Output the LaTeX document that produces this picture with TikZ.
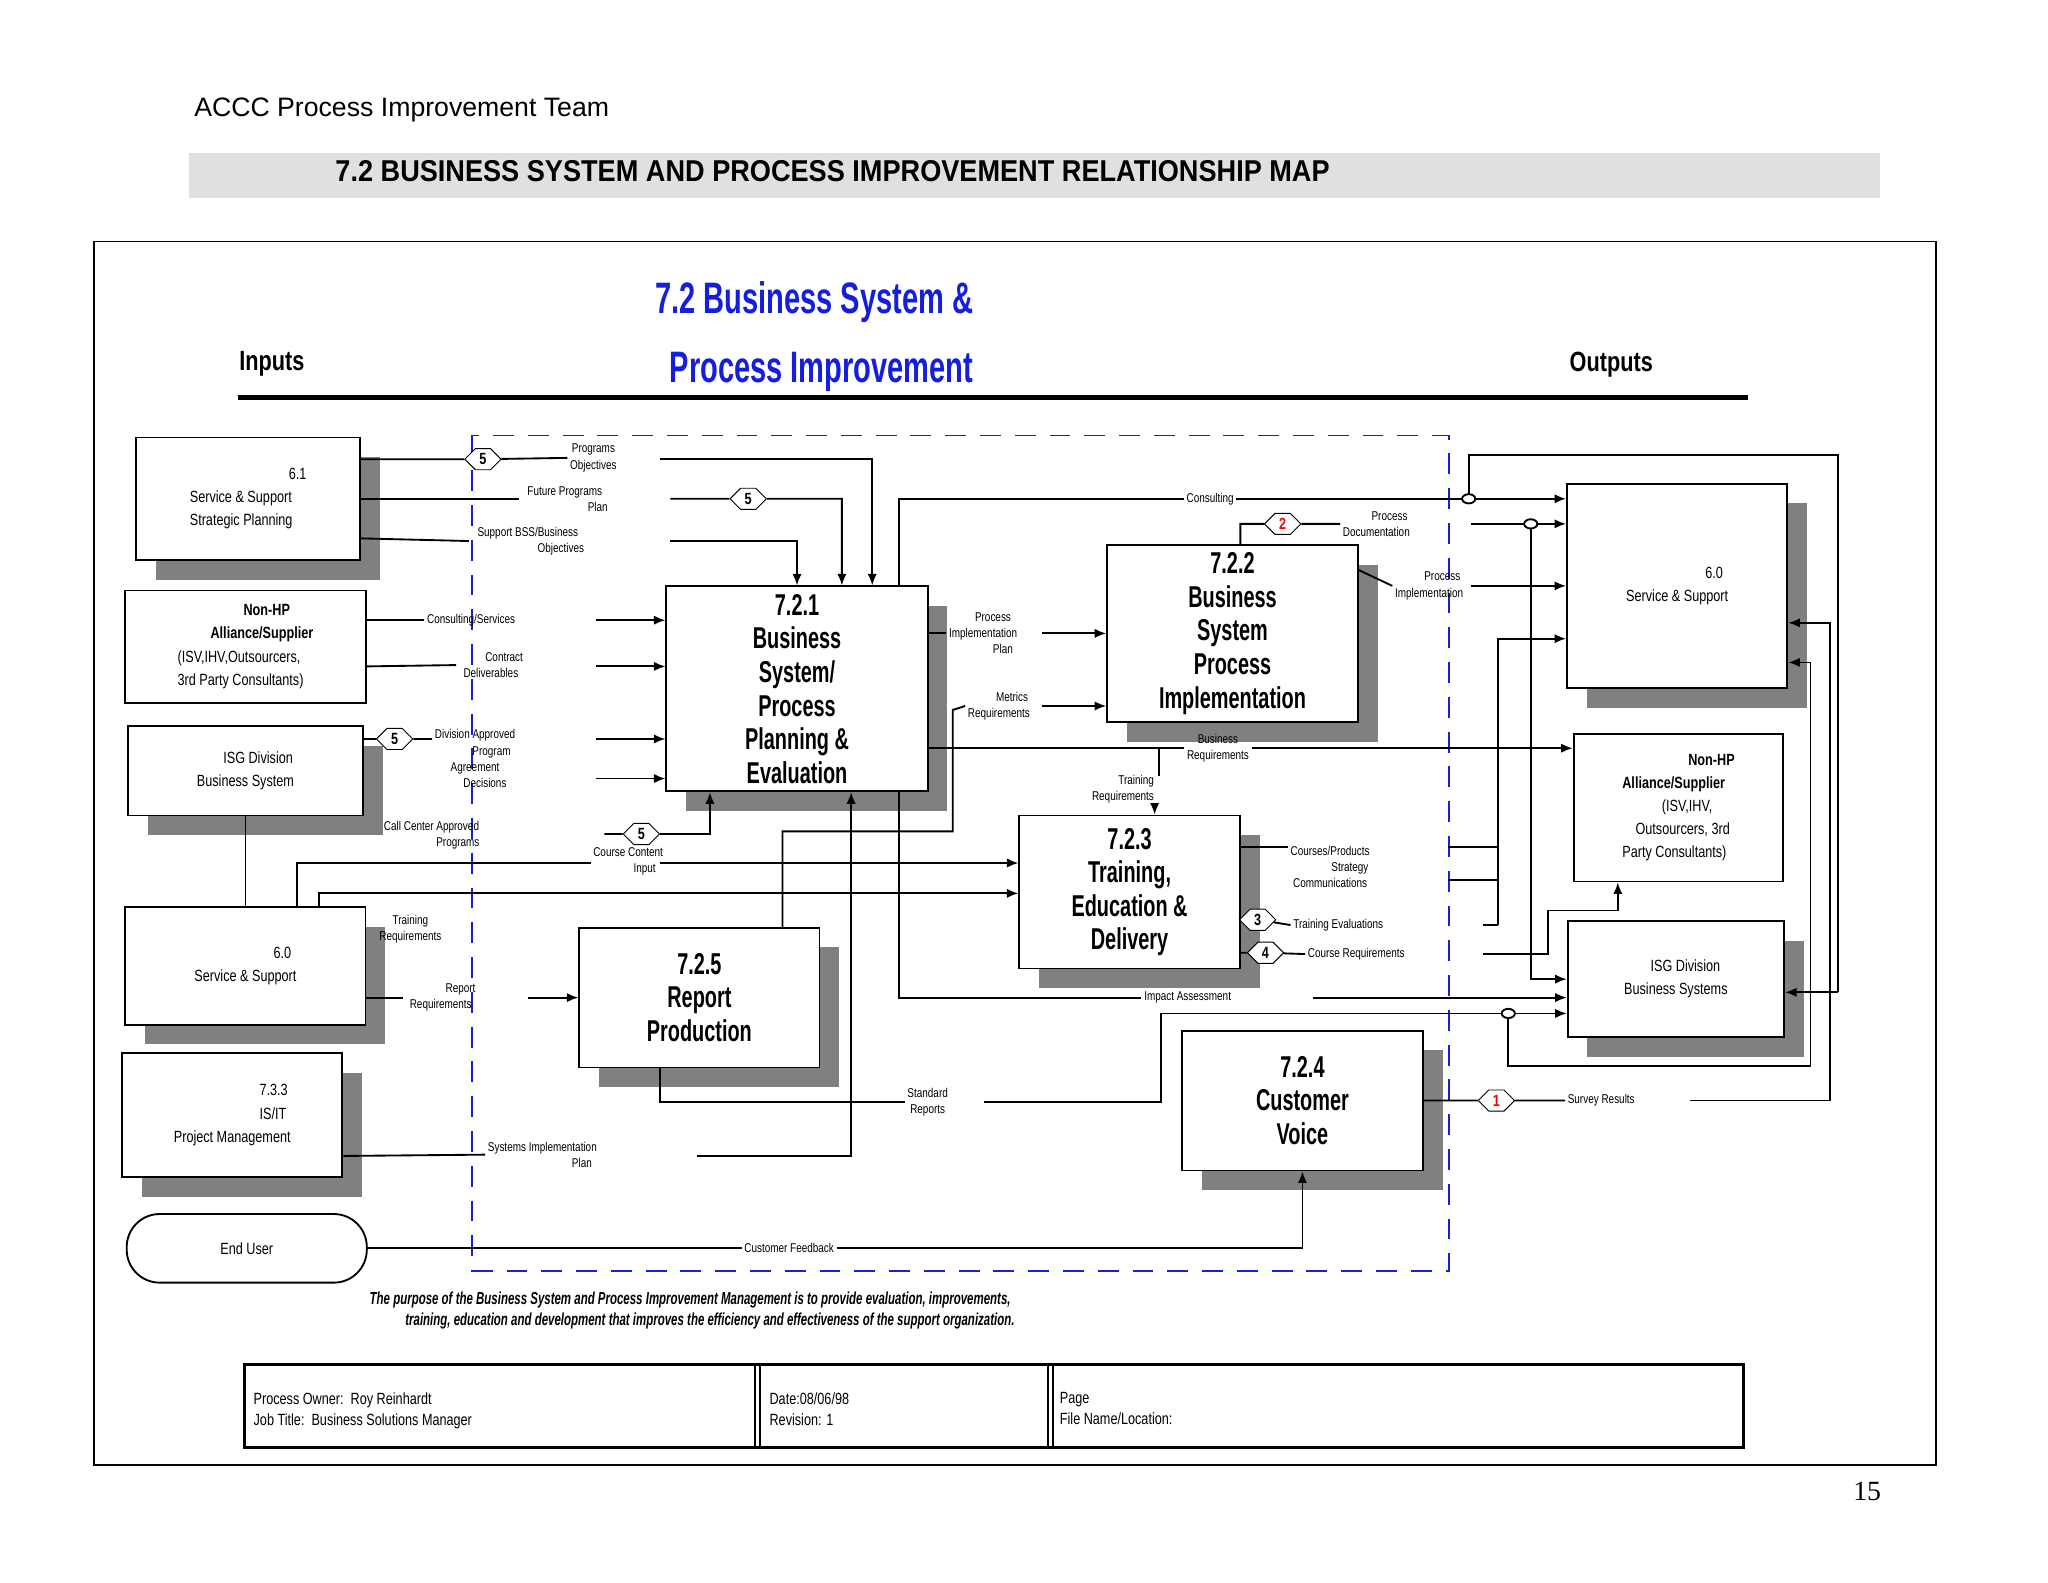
\documentclass[tikz,border=0pt]{standalone}
\usepackage{fontspec}
\newfontfamily\arial{Liberation Sans}
\newfontfamily\hdr{Liberation Sans}[FakeStretch=0.9]
\newfontfamily\nar{Liberation Sans}[FakeStretch=0.78]
\newfontfamily\narr{Liberation Sans}[FakeStretch=0.66]
\newfontfamily\tms{Liberation Serif}
\usetikzlibrary{shapes.symbols,shapes.geometric,shadows,arrows.meta}
\definecolor{ttlblue}{RGB}{20,30,220}
\tikzset{
  box/.style={draw, thick, fill=white, font=\nar\fontsize{7}{10}\selectfont, align=left},
  shd/.style={drop shadow={shadow xshift=0.3cm, shadow yshift=-0.3cm, fill=black!50, opacity=1}},
  proc/.style={box, shd, font=\narr\bfseries\fontsize{13}{14.5}\selectfont, align=center},
  lbl/.style={font=\nar\fontsize{5.5}{7}\selectfont, align=center, inner sep=1pt},
  hex/.style={signal, signal to=east and west, draw, fill=white, font=\nar\bfseries\fontsize{7}{7}\selectfont, inner sep=1.5pt, minimum width=0.55cm, minimum height=0.32cm},
  link/.style={thick},
  jn/.style={draw, thick, ellipse, fill=white, inner sep=0pt, minimum width=0.2cm, minimum height=0.14cm}
}
\begin{document}
\begin{tikzpicture}[x=0.02cm, y=-0.02cm, >={Latex[length=5pt,width=4pt]}]
\useasboundingbox (0,0) rectangle (1552,1199);
% header
\node[anchor=west, font=\arial\fontsize{11.5}{14}\selectfont] (team) at (141,83) {ACCC Process Improvement Team};
\fill[black!12] (143,116) rectangle (1425,150);
\node[anchor=west, font=\hdr\bfseries\fontsize{13}{15}\selectfont] (head) at (248,130) {7.2 BUSINESS SYSTEM AND PROCESS IMPROVEMENT RELATIONSHIP MAP};
\draw[thick] (71,183) rectangle (1467,1110);
\node[font=\narr\bfseries\fontsize{19}{30}\selectfont, text=ttlblue, align=center] (ttl) at (617,255) {7.2 Business System \&\\ \,\,Process Improvement};
\node[font=\nar\bfseries\fontsize{12}{14}\selectfont] (inputs) at (206,276) {Inputs};
\node[font=\nar\bfseries\fontsize{12}{14}\selectfont] (outputs) at (1221,276) {Outputs};
\draw[line width=2.2pt] (180,301) -- (1325,301);
\draw[ttlblue, thick, dash pattern=on 9pt off 6pt] (358,330) rectangle (1098,963);

% input boxes
\node[box, shd, minimum width=3.4cm, minimum height=1.86cm] (in61) at (188,378) {\hspace*{1.5cm}6.1\\Service \& Support\\Strategic Planning};
\node[box, minimum width=3.66cm, minimum height=1.7cm] (inNonHP) at (186,490) {\hspace*{1cm}\textbf{Non-HP}\\\hspace*{0.5cm}\textbf{Alliance/Supplier}\\(ISV,IHV,Outsourcers,\\3rd Party Consultants)};
\node[box, shd, minimum width=3.56cm, minimum height=1.36cm] (inISG) at (186,584) {\hspace*{0.4cm}ISG Division\\Business System};
\node[box, shd, minimum width=3.64cm, minimum height=1.78cm] (in60) at (186,732) {\hspace*{1.2cm}6.0\\Service \& Support};
\node[box, shd, minimum width=3.34cm, minimum height=1.88cm] (in733) at (176,845) {\hspace*{1.3cm}7.3.3\\\hspace*{1.3cm}IS/IT\\Project Management};
\node[box, rounded corners=0.5cm, minimum width=3.64cm, minimum height=1.04cm] (user) at (187,946) {End User};

% process boxes
\node[proc, minimum width=3.96cm, minimum height=3.1cm] (p721) at (604,522) {7.2.1\\Business\\System/\\Process\\Planning \&\\Evaluation};
\node[proc, minimum width=3.8cm, minimum height=2.6cm] (p722) at (934,480) {7.2.2\\Business\\System\\Process\\Implementation};
\node[proc, minimum width=3.34cm, minimum height=2.32cm] (p723) at (856,676) {7.2.3\\Training,\\Education \&\\Delivery};
\node[proc, minimum width=3.64cm, minimum height=2.12cm] (p725) at (530,756) {7.2.5\\Report\\Production};
\node[proc, minimum width=3.66cm, minimum height=2.12cm] (p724) at (987,834) {7.2.4\\Customer\\Voice};

% output boxes
\node[box, shd, minimum width=3.34cm, minimum height=3.1cm] (out60) at (1271,444) {\hspace*{1.2cm}6.0\\Service \& Support};
\node[box, minimum width=3.18cm, minimum height=2.24cm] (outNonHP) at (1272,612) {\hspace*{1cm}\textbf{Non-HP}\\\textbf{Alliance/Supplier}\\\hspace*{0.6cm}(ISV,IHV,\\\hspace*{0.2cm}Outsourcers, 3rd\\Party Consultants)};
\node[box, shd, minimum width=3.28cm, minimum height=1.76cm] (outISG) at (1270,742) {\hspace*{0.4cm}ISG Division\\Business Systems};

% labels and hexagons
\node[hex] (h5a) at (366,348) {5};
\node[lbl, anchor=west] (lPO) at (430,347) {Programs\\Objectives};
\node[lbl] (lFP) at (428,378) {Future Programs\\\hspace*{1cm}Plan};
\node[hex] (h5b) at (567,378) {5};
\node[lbl] (lSB) at (400,410) {Support BSS/Business\\\hspace*{1cm}Objectives};
\node[lbl] (lCS) at (357,470) {Consulting/Services};
\node[lbl] (lCD) at (372,504) {\hspace*{0.4cm}Contract\\Deliverables};
\node[hex] (h5c) at (299,560) {5};
\node[lbl] (lDA) at (360,575) {Division Approved\\\hspace*{0.5cm}Program\\Agreement\\\hspace*{0.3cm}Decisions};
\node[lbl] (lCC) at (327,633) {Call Center Approved\\\hspace*{0.8cm}Programs};
\node[hex] (h5d) at (486,632) {5};
\node[lbl] (lCCI) at (476,653) {Course Content\\\hspace*{0.5cm}Input};
\node[lbl] (lTR) at (311,704) {Training\\Requirements};
\node[lbl] (lRR) at (334,756) {\hspace*{0.6cm}Report\\Requirements};
\node[lbl] (lSIP) at (411,875) {Systems Implementation\\\hspace*{1.2cm}Plan};
\node[lbl] (lCF) at (598,946) {Customer Feedback};
\node[lbl] (lPIP) at (745,480) {\hspace*{0.3cm}Process\\Implementation\\\hspace*{0.6cm}Plan};
\node[lbl] (lMR) at (757,535) {\hspace*{0.4cm}Metrics\\Requirements};
\node[lbl] (lBR) at (923,567) {Business\\Requirements};
\node[lbl] (lTRq) at (851,598) {\hspace*{0.4cm}Training\\Requirements};
\node[lbl] (lCons) at (917,378) {Consulting};
\node[hex, text=red] (h2) at (972,397) {2};
\node[lbl] (lPD) at (1043,397) {\hspace*{0.4cm}Process\\Documentation};
\node[lbl] (lPI) at (1083,444) {\hspace*{0.4cm}Process\\Implementation};
\node[lbl] (lCPS) at (1008,657) {Courses/Products\\\hspace*{0.6cm}Strategy\\Communications};
\node[hex] (h3) at (953,697) {3};
\node[lbl, anchor=west] (lTE) at (978,701) {Training Evaluations};
\node[hex] (h4) at (959,722) {4};
\node[lbl, anchor=west] (lCR) at (989,723) {Course Requirements};
\node[lbl] (lIA) at (900,756) {Impact Assessment};
\node[lbl] (lSR) at (703,835) {Standard\\Reports};
\node[hex, text=red] (h1) at (1134,834) {1};
\node[lbl, anchor=west] (lSv) at (1186,834) {Survey Results};

% connectors on the input side
\draw[link] (in61.east |- 0,348) -- (h5a) -- (lPO.west);
\draw[link,->] (500,348) -- (661,348) -- (661,0 |- p721.north);
\draw[link] (in61.east |- 0,378) -- (lFP.west);
\draw[link,->] (508,378) -- (h5b) -- (638,378) -- (638,0 |- p721.north);
\draw[link] (in61.east |- 0,408) -- (lSB.west);
\draw[link,->] (508,410) -- (604,410) -- (604,0 |- p721.north);
\draw[link] (inNonHP.east |- 0,470) -- (lCS.west);
\draw[link,->] (452,470) -- (p721.west |- 0,470);
\draw[link] (inNonHP.east |- 0,505) -- (lCD.west);
\draw[link,->] (452,505) -- (p721.west |- 0,505);
\draw[link] (inISG.east |- 0,560) -- (h5c) -- (lDA.west |- 0,560);
\draw[link,->] (452,560) -- (p721.west |- 0,560);
\draw[link,->] (452,590) -- (p721.west |- 0,590);
\draw[link] (inISG.south) -- (in60.north);
\draw[link] (225,0 |- in60.north) -- (225,654) -- (lCCI.west |- 0,654);
\draw[link,->] (500,654) -- (p723.west |- 0,654);
\draw[link,->] (458,632) -- (h5d) -- (538,632) -- (538,0 |- p721.south);
\draw[link,->] (242,0 |- in60.north) -- (242,677) -- (p723.west |- 0,677);
\draw[link] (in60.east |- 0,756) -- (lRR.west);
\draw[link,->] (400,756) -- (p725.west |- 0,756);
\draw[link] (in733.east |- 0,876) -- (lSIP.west);
\draw[link,->] (528,876) -- (645,876) -- (645,0 |- p721.south);
\draw[link] (user.east) -- (lCF.west);
\draw[link,->] (lCF.east) -- (987,946) -- (p724.south);

% connectors between processes
\draw[link] (p721.east |- 0,480) -- (lPIP.west);
\draw[link,->] (790,480) -- (p722.west |- 0,480);
\draw[link] (p725.north -| 593,0) -- (593,630) -- (722,630) -- (722,538) -- (lMR.west);
\draw[link,->] (790,535) -- (p722.west |- 0,535);
\draw[link] (p721.east |- 0,567) -- (lBR.west |- 0,567);
\draw[link,->] (lBR.east |- 0,567) -- (outNonHP.west |- 0,567);
\draw[link] (878,567) -- (878,588);
\draw[link,->] (875,610) -- (875,0 |- p723.north);
\draw[link] (681,0 |- p721.north) -- (681,378) -- (lCons.west);
\draw[link,->] (lCons.east) -- (out60.west |- 0,378);
\draw[link] (940,0 |- p722.north) -- (940,397) -- (h2) -- (lPD.west);
\draw[link,->] (1115,397) -- (out60.west |- 0,397);
\draw[link] (p722.east |- 0,432) -- (lPI.west);
\draw[link,->] (1115,444) -- (out60.west |- 0,444);
\draw[link] (681,0 |- p721.south) -- (681,756) -- (lIA.west);
\draw[link,->] (995,756) -- (outISG.west |- 0,756);
\draw[link] (p725.south -| 500,0) -- (500,835) -- (lSR.west);
\draw[link] (746,835) -- (880,835) -- (880,768) -- (1143,768);
\draw[link,->] (1143,768) -- (outISG.west |- 0,768);

% connectors on the output side
\draw[link] (p723.east |- 0,642) -- (lCPS.west |- 0,642);
\draw[link] (1097,642) -- (1135,642);
\draw[link] (1097,667) -- (1135,667);
\draw[link] (p723.east |- 0,697) -- (h3) -- (lTE.west);
\draw[link] (1124,701) -- (1135,701);
\draw[link,->] (1135,701) -- (1135,484) -- (out60.west |- 0,484);
\draw[link] (p723.east |- 0,722) -- (h4) -- (lCR.west);
\draw[link,->] (1124,723) -- (1173,723) -- (1173,690) -- (1226,690) -- (1226,0 |- outNonHP.south);
\draw[link,->] (1160,397) -- (1160,742) -- (outISG.west |- 0,742);
\draw[link] (1113,378) -- (1113,345) -- (1393,345) -- (1393,752);
\draw[link,->] (1393,752) -- (outISG.east |- 0,752);
\draw[link] (p724.east |- 0,834) -- (h1) -- (lSv.west);
\draw[link,->] (1281,834) -- (1387,834) -- (1387,472) -- (out60.east |- 0,472);
\draw[link,->] (1143,768) -- (1143,808) -- (1372,808) -- (1372,502) -- (out60.east |- 0,502);
\node[jn] (j1) at (1113,378) {};
\node[jn] (j2) at (1160,397) {};
\node[jn] (j3) at (1143,768) {};

% purpose and footer
\node[font=\narr\bfseries\itshape\fontsize{7.5}{9}\selectfont, align=center] (purpose) at (523,993) {The purpose of the Business System and Process Improvement Management is to provide evaluation, improvements,\\\hspace*{0.6cm}training, education and development that improves the efficiency and effectiveness of the support organization.};
\draw[line width=1.2pt] (185,1034) rectangle (1321,1097);
\draw[thick] (572,1034) -- (572,1097) (576,1034) -- (576,1097);
\draw[thick] (794,1034) -- (794,1097) (798,1034) -- (798,1097);
\node[anchor=north west, font=\nar\fontsize{7}{9}\selectfont, align=left] (owner) at (186,1049) {Process Owner:\ \ Roy Reinhardt\\Job Title:\ \ Business Solutions Manager};
\node[anchor=north west, font=\nar\fontsize{7}{9}\selectfont, align=left] (date) at (577,1049) {Date:08/06/98\\Revision: 1};
\node[anchor=north west, font=\nar\fontsize{7}{9}\selectfont, align=left] (page) at (797,1049) {Page\\File Name/Location:};
\node[font=\tms\fontsize{12}{14}\selectfont] (pnum) at (1415,1130) {15};
\end{tikzpicture}
\end{document}
